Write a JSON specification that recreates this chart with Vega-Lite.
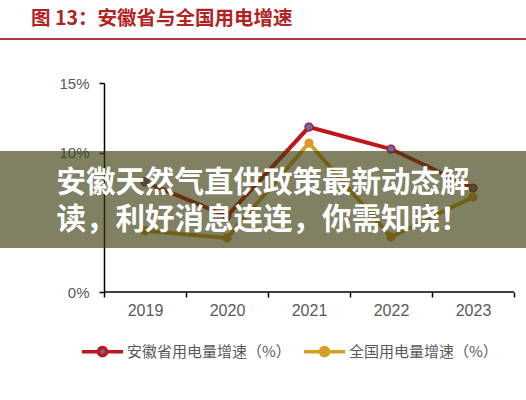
{
  "$schema": "https://vega.github.io/schema/vega-lite/v6.json",
  "width": 526,
  "height": 209,
  "autosize": {"type": "none"},
  "padding": {"left": 0, "right": 0, "top": 83, "bottom": 108},
  "background": "white",
  "title": {
    "text": "图 13：安徽省与全国用电增速",
    "anchor": "start",
    "dx": 32,
    "offset": 8,
    "fontSize": 19.5,
    "fontWeight": "bold",
    "color": "#b22222",
    "font": "Noto Sans CJK SC"
  },
  "config": {"view": {"stroke": null}, "font": "Liberation Sans"},
  "datasets": {
    "growth": [
      {"year": "2019", "series": "安徽省用电量增速（%）", "value": 7.9},
      {"year": "2020", "series": "安徽省用电量增速（%）", "value": 5.45},
      {"year": "2021", "series": "安徽省用电量增速（%）", "value": 11.84},
      {"year": "2022", "series": "安徽省用电量增速（%）", "value": 10.26},
      {"year": "2023", "series": "安徽省用电量增速（%）", "value": 7.46},
      {"year": "2019", "series": "全国用电量增速（%）", "value": 4.4},
      {"year": "2020", "series": "全国用电量增速（%）", "value": 3.88},
      {"year": "2021", "series": "全国用电量增速（%）", "value": 10.69},
      {"year": "2022", "series": "全国用电量增速（%）", "value": 3.95},
      {"year": "2023", "series": "全国用电量增速（%）", "value": 6.82}
    ],
    "banner1": [{"text": "安徽天然气直供政策最新动态解"}],
    "banner2": [{"text": "读，利好消息连连，你需知晓！"}]
  },
  "layer": [
    {
      "data": {"name": "growth"},
      "mark": {"type": "line", "strokeWidth": 4},
      "encoding": {
        "x": {
          "field": "year",
          "type": "ordinal",
          "bandPosition": 0.5,
          "scale": {"type": "band", "paddingInner": 0, "paddingOuter": 0.70732, "align": 0.89655},
          "axis": {
            "title": null,
            "tickBand": "extent",
            "domain": false,
            "ticks": true,
            "tickColor": "black",
            "tickSize": 5,
            "tickWidth": 1.5,
            "labelFontSize": 16,
            "labelColor": "#595959",
            "labelPadding": 5,
            "labelAngle": 0
          }
        },
        "y": {
          "field": "value",
          "type": "quantitative",
          "scale": {"domain": [0, 15], "nice": false},
          "axis": {
            "title": null,
            "values": [0, 10, 15],
            "labelExpr": "datum.value + '%'",
            "offset": -104,
            "grid": false,
            "domainColor": "black",
            "domainWidth": 1.5,
            "tickColor": "black",
            "tickSize": 5,
            "tickWidth": 1.5,
            "labelFontSize": 15,
            "labelColor": "#595959",
            "labelPadding": 10
          }
        },
        "color": {
          "field": "series",
          "type": "nominal",
          "scale": {"domain": ["安徽省用电量增速（%）", "全国用电量增速（%）"], "range": ["#c0151b", "#cfa225"]},
          "legend": {
            "orient": "none",
            "legendX": 80,
            "legendY": 246,
            "direction": "horizontal",
            "title": null,
            "symbolType": "M-1,0H-0.2M0.2,0H1M0.2,0A0.2,0.2 0 1,1 -0.2,0A0.2,0.2 0 1,1 0.2,0Z",
            "symbolSize": 1681,
            "symbolStrokeWidth": 3.5,
            "labelFontSize": 15,
            "labelColor": "#595959",
            "labelFont": "Noto Sans CJK SC",
            "labelLimit": 400,
            "columnPadding": 6,
            "labelOffset": 2,
            "encode": {
              "symbols": {
                "update": {
                  "fill": {"scale": "fill", "field": "value"},
                  "fillOpacity": {"value": 1},
                  "opacity": {"value": 1}
                }
              }
            }
          }
        }
      }
    },
    {
      "data": {"name": "growth"},
      "mark": {"type": "point", "filled": true, "size": 60, "strokeWidth": 1.5, "opacity": 1},
      "encoding": {
        "x": {"field": "year", "type": "ordinal", "bandPosition": 0.5},
        "y": {"field": "value", "type": "quantitative"},
        "fill": {
          "field": "series",
          "type": "nominal",
          "scale": {"domain": ["安徽省用电量增速（%）", "全国用电量增速（%）"], "range": ["#5a6db8", "#e8902f"]},
          "legend": null
        },
        "stroke": {
          "field": "series",
          "type": "nominal",
          "scale": {"domain": ["安徽省用电量增速（%）", "全国用电量增速（%）"], "range": ["#c0151b", "#cfa225"]},
          "legend": null
        }
      }
    },
    {
      "data": {"values": [{}]},
      "mark": {"type": "rule", "color": "black", "strokeWidth": 1.5},
      "encoding": {
        "x": {"datum": "2019", "type": "ordinal", "bandPosition": 0},
        "x2": {"datum": "2023", "bandPosition": 1},
        "y": {"datum": 0, "type": "quantitative"}
      }
    },
    {
      "data": {"values": [{}]},
      "mark": {"type": "rule", "color": "#a83a3a", "strokeWidth": 2},
      "encoding": {
        "y": {"datum": 18.16, "type": "quantitative"}
      }
    },
    {
      "data": {"values": [{}]},
      "mark": {"type": "rect", "color": "#3c3e0f", "opacity": 0.65},
      "encoding": {
        "y": {"datum": 10.12, "type": "quantitative"},
        "y2": {"datum": 3.16}
      }
    },
    {
      "data": {"name": "banner1"},
      "mark": {
        "type": "text",
        "fontSize": 29.5,
        "fontWeight": "bold",
        "color": "white",
        "font": "Noto Sans CJK SC",
        "align": "center",
        "baseline": "middle"
      },
      "encoding": {
        "text": {"field": "text"},
        "y": {"datum": 7.82, "type": "quantitative"}
      }
    },
    {
      "data": {"name": "banner2"},
      "mark": {
        "type": "text",
        "fontSize": 29.5,
        "fontWeight": "bold",
        "color": "white",
        "font": "Noto Sans CJK SC",
        "align": "center",
        "baseline": "middle"
      },
      "encoding": {
        "text": {"field": "text"},
        "y": {"datum": 5.17, "type": "quantitative"}
      }
    }
  ]
}
